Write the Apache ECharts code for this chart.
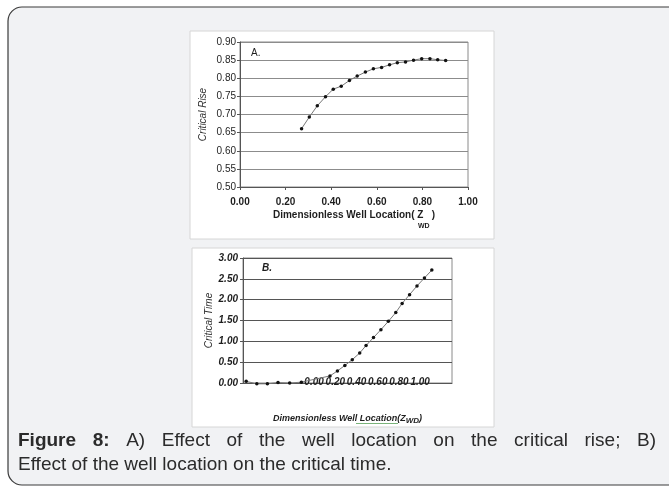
<!DOCTYPE html>
<html>
<head>
<meta charset="utf-8">
<script src="https://cdn.jsdelivr.net/npm/echarts@6/dist/echarts.min.js"></script>
<style>
  html, body { margin: 0; padding: 0; background: #ffffff; }
  #chart { width: 669px; height: 488px; }
</style>
</head>
<body>
<div id="chart"></div>
<script>
// Panel A: critical rise against dimensionless well location
const riseX = [0.270, 0.304, 0.339, 0.375, 0.409, 0.444, 0.480, 0.514, 0.550, 0.585,
               0.621, 0.656, 0.690, 0.726, 0.761, 0.797, 0.833, 0.867, 0.902];
const riseY = [0.661, 0.693, 0.724, 0.749, 0.770, 0.778, 0.794, 0.806, 0.817, 0.826,
               0.830, 0.837, 0.843, 0.845, 0.850, 0.854, 0.854, 0.851, 0.849];

// Panel B: critical time against dimensionless well location
const timeX = [-0.64, -0.54, -0.44, -0.34, -0.23, -0.12,
               0.15, 0.22, 0.29, 0.36, 0.43, 0.49, 0.56, 0.63, 0.70,
               0.77, 0.83, 0.90, 0.97, 1.04, 1.11];
const timeY = [0.04, -0.02, -0.02, 0.01, 0.00, 0.02,
               0.17, 0.29, 0.42, 0.56, 0.72, 0.90, 1.09, 1.28, 1.48,
               1.69, 1.91, 2.12, 2.33, 2.52, 2.71];

// Tick labels
const locationTicks = [0.00, 0.20, 0.40, 0.60, 0.80, 1.00];

// Caption
const captionLine1 = [
  { t: 'Figure', bold: true }, { t: '8:', bold: true }, { t: 'A)' }, { t: 'Effect' },
  { t: 'of' }, { t: 'the' }, { t: 'well' }, { t: 'location' }, { t: 'on' },
  { t: 'the' }, { t: 'critical' }, { t: 'rise;' }, { t: 'B)' }
];
const captionLine2 = 'Effect of the well location on the critical time.';

const FONT = '"Liberation Sans", Arial, sans-serif';
const CAP_SIZE = 19;

const zip = (xs, ys) => xs.map((x, i) => [x, ys[i]]);
const fmt2 = v => v.toFixed(2);

// measure words so the first caption line can be set justified
const measureCtx = document.createElement('canvas').getContext('2d');
function textWidth(str, bold) {
  measureCtx.font = (bold ? 'bold ' : '') + CAP_SIZE + 'px ' + FONT;
  return measureCtx.measureText(str).width;
}
function justifiedWords(words, x0, x1, y) {
  const widths = words.map(w => textWidth(w.t, w.bold));
  const total = widths.reduce((a, b) => a + b, 0);
  const gap = (x1 - x0 - total) / (words.length - 1);
  let x = x0;
  return words.map((w, i) => {
    const el = {
      type: 'text', left: x, top: y, z: 10,
      style: { text: w.t, font: (w.bold ? 'bold ' : '') + CAP_SIZE + 'px ' + FONT, fill: '#2b2b2b' }
    };
    x += widths[i] + gap;
    return el;
  });
}

const chart = echarts.init(document.getElementById('chart'), null, { renderer: 'canvas' });

const boldItalic = { fontFamily: FONT, fontWeight: 'bold', fontStyle: 'italic', fontSize: 10, color: '#1e1e1e' };

chart.setOption({
  animation: false,
  textStyle: { fontFamily: FONT },
  grid: [
    { left: 240, top: 42, width: 228, height: 145, show: true, borderColor: '#8a8a8a', borderWidth: 1, backgroundColor: 'transparent' },
    { left: 243, top: 258, width: 209, height: 125, show: true, borderColor: '#8a8a8a', borderWidth: 1, backgroundColor: 'transparent' }
  ],
  xAxis: [
    {
      gridIndex: 0, type: 'value', min: 0, max: 1, interval: 0.2,
      axisLine: { show: true, onZero: false, lineStyle: { color: '#555', width: 1 } },
      axisTick: { show: true, length: 3, lineStyle: { color: '#555' } },
      axisLabel: { formatter: fmt2, fontSize: 10, fontWeight: 'bold', color: '#1e1e1e', margin: 10, fontFamily: FONT },
      splitLine: { show: false },
      name: 'Dimensionless Well Location( Z   )',
      nameLocation: 'middle', nameGap: 23,
      nameTextStyle: { fontSize: 10, fontWeight: 'bold', color: '#1e1e1e', fontFamily: FONT }
    },
    {
      gridIndex: 1, type: 'value', min: -0.67, max: 1.30,
      axisLine: { show: true, onZero: false, lineStyle: { color: '#555', width: 1 } },
      axisTick: { show: false },
      axisLabel: Object.assign({ customValues: locationTicks, formatter: fmt2, margin: -6 }, boldItalic),
      splitLine: { show: false },
      name: '{n|Dimensionless Well }{u|Location(}{n|Z}{s|WD}{n|)}',
      nameLocation: 'middle', nameGap: 30,
      nameTextStyle: {
        fontFamily: FONT,
        rich: {
          n: { fontFamily: FONT, fontSize: 9, fontWeight: 'bold', fontStyle: 'italic', color: '#1e1e1e' },
          u: { fontFamily: FONT, fontSize: 9, fontWeight: 'bold', fontStyle: 'italic', color: '#1e1e1e' },
          s: { fontFamily: FONT, fontSize: 8, fontWeight: 'bold', fontStyle: 'italic', color: '#1e1e1e', padding: [4, 0, 0, 0] }
        }
      }
    }
  ],
  yAxis: [
    {
      gridIndex: 0, type: 'value', min: 0.5, max: 0.9, interval: 0.05,
      axisLine: { show: true, onZero: false, lineStyle: { color: '#555' } },
      axisTick: { show: true, length: 3, lineStyle: { color: '#555' } },
      axisLabel: { formatter: fmt2, fontSize: 10, color: '#1e1e1e', margin: 4, fontFamily: FONT },
      splitLine: { show: true, lineStyle: { color: '#8c8c8c', width: 1 } },
      name: 'Critical Rise', nameLocation: 'middle', nameGap: 32, nameRotate: 90,
      nameTextStyle: { fontSize: 10, fontStyle: 'italic', color: '#333', fontFamily: FONT }
    },
    {
      gridIndex: 1, type: 'value', min: 0, max: 3, interval: 0.5,
      axisLine: { show: true, onZero: false, lineStyle: { color: '#555' } },
      axisTick: { show: true, length: 3, lineStyle: { color: '#555' } },
      axisLabel: Object.assign({ formatter: fmt2, margin: 5 }, boldItalic),
      splitLine: { show: true, lineStyle: { color: '#555', width: 1 } },
      name: 'Critical Time', nameLocation: 'middle', nameGap: 25, nameRotate: 90,
      nameTextStyle: { fontSize: 10, fontStyle: 'italic', color: '#333', fontFamily: FONT }
    }
  ],
  series: [
    {
      type: 'line', xAxisIndex: 0, yAxisIndex: 0, data: zip(riseX, riseY),
      symbol: 'circle', symbolSize: 3.5, z: 5,
      itemStyle: { color: '#111' }, lineStyle: { color: '#777', width: 1 }
    },
    {
      type: 'line', xAxisIndex: 1, yAxisIndex: 1, data: zip(timeX, timeY),
      symbol: 'circle', symbolSize: 3.5, clip: false, z: 5,
      itemStyle: { color: '#111' }, lineStyle: { color: '#777', width: 1 }
    }
  ],
  graphic: [
    // outer frame and white panels
    { type: 'rect', z: -100, shape: { x: 8, y: 7, width: 676, height: 478, r: 14 },
      style: { fill: '#f1f2f4', stroke: '#3a3a3a', lineWidth: 1.2 } },
    { type: 'rect', z: -90, shape: { x: 190, y: 31, width: 304, height: 208 },
      style: { fill: '#ffffff', stroke: '#d6d6d6', lineWidth: 1 } },
    { type: 'rect', z: -90, shape: { x: 192, y: 248, width: 302, height: 179 },
      style: { fill: '#ffffff', stroke: '#d6d6d6', lineWidth: 1 } },
    // panel letters
    { type: 'text', left: 251, top: 48, z: 10,
      style: { text: 'A.', font: '10px ' + FONT, fill: '#1e1e1e' } },
    { type: 'text', left: 262, top: 263, z: 10,
      style: { text: 'B.', font: 'italic bold 10px ' + FONT, fill: '#1e1e1e' } },
    // subscript of the panel A axis title
    { type: 'text', left: 418, top: 223, z: 10,
      style: { text: 'WD', font: 'bold 7px ' + FONT, fill: '#1e1e1e' } },
    // green proofing underline beneath "Location(" in the panel B axis title
    { type: 'line', z: 10, shape: { x1: 356, y1: 423.5, x2: 398, y2: 423.5 },
      style: { stroke: '#7ab37a', lineWidth: 1 } },
    // caption
    ...justifiedWords(captionLine1, 18, 656, 431),
    { type: 'text', left: 18, top: 455, z: 10,
      style: { text: captionLine2, font: CAP_SIZE + 'px ' + FONT, fill: '#2b2b2b' } }
  ]
});
</script>
</body>
</html>
